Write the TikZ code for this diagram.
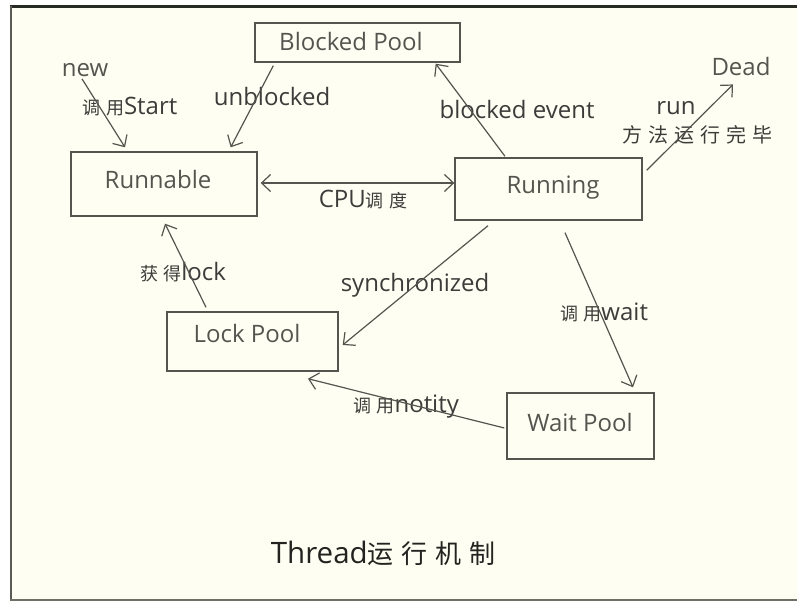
\documentclass[tikz,border=0pt]{standalone}
\usepackage{fontspec}
\setmainfont{Open Sans}
\newfontfamily\cjk[LetterSpace=30]{Noto Sans CJK SC}
\usetikzlibrary{arrows.meta}
\definecolor{paper}{RGB}{254,254,242}
\definecolor{ink}{RGB}{85,85,80}
\definecolor{txt}{RGB}{60,60,58}
\tikzset{
  x=1pt, y=-1pt,
  pool/.style={draw=ink, line width=1.4pt, inner sep=0pt},
  boxtext/.style={text=ink, font=\fontsize{24}{28}\selectfont, inner sep=0pt},
  lbl/.style={text=txt, font=\fontsize{24}{28}\selectfont, inner sep=0pt},
  flow/.style={draw=ink, line width=1.2pt, -{Straight Barb[length=9pt,width=17pt]}},
}
\newcommand\zh[1]{{\cjk\fontsize{18}{20}\selectfont #1}}
\begin{document}
\begin{tikzpicture}
% canvas and frame
\useasboundingbox (0,0) rectangle (797,601);
\fill[white] (0,0) rectangle (797,601);
\fill[paper] (11,6) rectangle (797,600);
\draw[line width=3pt, draw={rgb,255:red,40;green,42;blue,36}] (10,6.5) -- (797,6.5);
\draw[line width=2pt, draw={rgb,255:red,90;green,92;blue,84}] (11,6) -- (11,600);
\draw[line width=2pt, draw={rgb,255:red,110;green,112;blue,104}] (10,600) -- (797,600);

% state boxes
\node[pool, minimum width=205pt, minimum height=39pt] (blocked) at (357.5,42.5) {};
\node[pool, minimum width=186pt, minimum height=64pt] (runnable) at (164,184) {};
\node[pool, minimum width=187pt, minimum height=62pt] (running) at (548.5,189) {};
\node[pool, minimum width=171pt, minimum height=59pt] (lock) at (252.5,341.5) {};
\node[pool, minimum width=147pt, minimum height=66pt] (wait) at (580.5,426) {};

% box captions
\node[boxtext] (tblocked) at (351,42) {Blocked Pool};
\node[boxtext] (trunnable) at (158,180) {Runnable};
\node[boxtext] (trunning) at (553,188) {Running};
\node[boxtext] (tlock) at (247,333) {Lock Pool};
\node[boxtext] (twait) at (580,422) {Wait Pool};
\node[boxtext] (dead) at (741,67) {Dead};
\node[boxtext] (new) at (85,70) {new};

% transition labels
\node[lbl] (lstart) at (130,107) {\zh{调用}Start};
\node[lbl] (lunblocked) at (272,97) {unblocked};
\node[lbl] (lcpu) at (363,200) {CPU\zh{调度}};
\node[lbl] (lbev) at (517,110) {blocked event};
\node[lbl] (lrun) at (676,108) {run};
\node[lbl, font=\cjk\fontsize{20}{22}\selectfont] (lfinish) at (697,135) {方法运行完毕};
\node[lbl] (llock) at (183,272) {\zh{获得}lock};
\node[lbl] (lsync) at (415,285) {synchronized};
\node[lbl] (lnotify) at (406,407) {\zh{调用}notity};
\node[lbl] (lwait) at (604,312) {\zh{调用}wait};

% title
\node[text={rgb,255:red,35;green,35;blue,32}, inner sep=0pt, font=\fontsize{29.5}{34}\selectfont] (title) at (383,553)
  {Thread{\cjk\fontsize{26}{30}\selectfont 运行机制}};

% transitions
\draw[flow] ([xshift=-3pt,yshift=-2pt]new.south) -- ([xshift=-39pt,yshift=4pt]runnable.north);
\draw[flow] ([xshift=19pt,yshift=-3pt]blocked.south west) -- ([xshift=-27pt,yshift=4pt]runnable.north east);
\draw[flow, {Straight Barb[length=9pt,width=17pt]}-{Straight Barb[length=9pt,width=17pt]}]
  ([xshift=3pt,yshift=1pt]runnable.east) -- ([yshift=6pt]running.west);
\draw[flow] ([xshift=-43.5pt,yshift=1pt]running.north) -- ([xshift=-25pt,yshift=-1pt]blocked.south east);
\draw[flow] ([xshift=4pt,yshift=-13pt]running.north east) -- ([xshift=-8pt,yshift=-8pt]dead.south);
\draw[flow] ([xshift=-60.5pt,yshift=-5pt]running.south) -- ([xshift=4pt,yshift=-3.5pt]lock.east);
\draw[flow] ([xshift=-46.5pt,yshift=4pt]lock.north) -- ([xshift=1pt,yshift=-7pt]runnable.south);
\draw[flow] ([xshift=16.5pt,yshift=-12pt]running.south) -- ([xshift=52.5pt,yshift=5pt]wait.north);
\draw[flow] ([xshift=-2pt,yshift=-2pt]wait.west) -- ([xshift=55.5pt,yshift=-7pt]lock.south);
\end{tikzpicture}
\end{document}
